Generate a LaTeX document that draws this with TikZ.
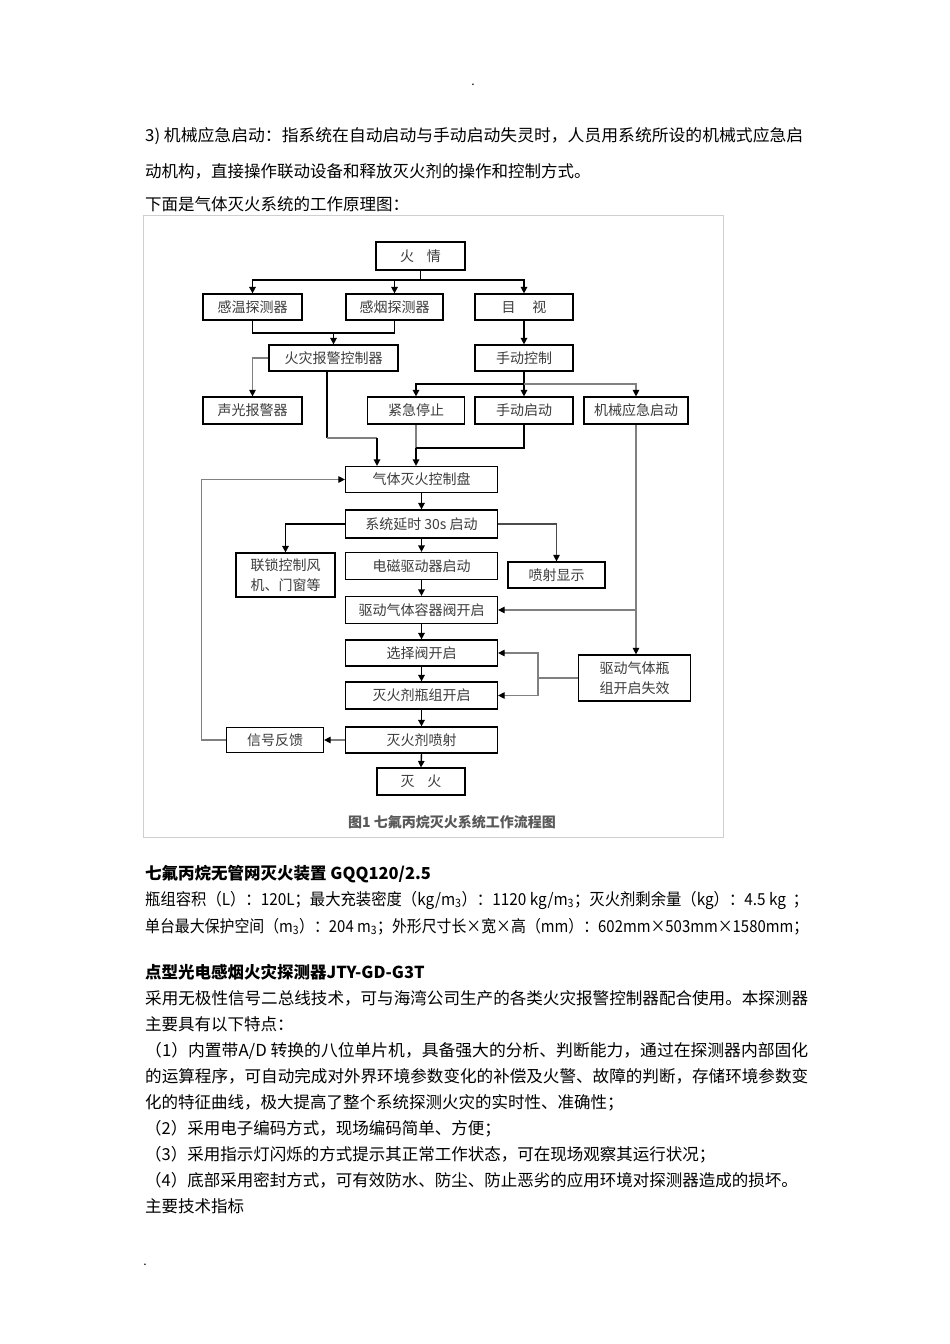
\documentclass[tikz,border=0pt]{standalone}
\usepackage{fontspec}
\setmainfont{Noto Sans CJK SC}
\usepackage{graphicx}
\usetikzlibrary{arrows.meta}
\newcommand{\fitto}[2]{\resizebox{#1}{\height}{#2}}
\definecolor{boxtext}{HTML}{3C3C3C}
\definecolor{lgray}{HTML}{808080}
\definecolor{framec}{HTML}{CFCFCF}
\begin{document}
\begin{tikzpicture}[x=1pt,y=-1pt,
  bx/.style 2 args={draw=black, line width=1.2pt, fill=white, inner sep=0pt, minimum width=#1, minimum height=#2, text=boxtext, font=\fontsize{14}{20}\selectfont, align=center},
  ln/.style={line width=1.4pt, draw=black},
  gl/.style={line width=1.1pt, draw=lgray},
  tip/.style={-{Triangle[length=6.5pt,width=6.5pt,color=black]}},
  body/.style={anchor=base west, inner sep=0pt, font=\fontsize{16.5}{20}\selectfont},
  bodyb/.style={body, font=\bfseries\fontsize{16.5}{20}\selectfont},
]
\fill[white] (0,0) rectangle (950,1344);
\useasboundingbox (0,0) rectangle (950,1344);

% page header / footer dots
\node[anchor=base, inner sep=0pt, font=\fontsize{12}{14}\selectfont] (dtop) at (473,85) {.};
\node[anchor=base, inner sep=0pt, font=\fontsize{12}{14}\selectfont] (dbot) at (145,1265) {.};

% top text
\node[body] (p1) at (145,141) {\fitto{658pt}{3)\ 机械应急启动：指系统在自动启动与手动启动失灵时，人员用系统所设的机械式应急启}};
\node[body] (p2) at (145,177) {动机构，直接操作联动设备和释放灭火剂的操作和控制方式。};
\node[body] (p3) at (145,210) {下面是气体灭火系统的工作原理图：};

% figure frame
\draw[framec, line width=1pt] (143,215) rectangle (723,837);

% boxes
\node[bx={89pt}{28pt}] (fire) at (420.5,256) {火\hspace{0.9em}情};
\node[bx={99pt}{26pt}] (t1) at (252.5,307) {感温探测器};
\node[bx={97pt}{26pt}] (t2) at (394.5,307) {感烟探测器};
\node[bx={98pt}{26pt}] (t3) at (524,307) {目\hspace{1.2em}视};
\node[bx={129pt}{26pt}] (alarm) at (333.5,358) {火灾报警控制器};
\node[bx={98pt}{26pt}] (manual) at (524,358) {手动控制};
\node[bx={99pt}{27pt}] (sg) at (252.5,410.5) {声光报警器};
\node[bx={97pt}{27pt}] (stop) at (416,410.5) {紧急停止};
\node[bx={98pt}{27pt}] (mstart) at (524,410.5) {手动启动};
\node[bx={104pt}{27pt}] (mech) at (636,410.5) {机械应急启动};
\node[bx={152pt}{26pt}] (panel) at (421.5,479.5) {气体灭火控制盘};
\node[bx={152pt}{28pt}] (delay) at (421.5,524) {系统延时 30s 启动};
\node[bx={99pt}{44pt}] (link) at (285.5,575) {联锁控制风\\机、门窗等};
\node[bx={152pt}{27pt}] (em) at (421.5,566) {电磁驱动器启动};
\node[bx={97pt}{26pt}] (spray) at (556.5,575) {喷射显示};
\node[bx={152pt}{27pt}] (valve) at (421.5,610) {驱动气体容器阀开启};
\node[bx={152pt}{26pt}] (sel) at (421.5,653) {选择阀开启};
\node[bx={152pt}{27pt}] (bottle) at (421.5,695.5) {灭火剂瓶组开启};
\node[bx={112pt}{46pt}] (fail) at (634.5,678) {驱动气体瓶\\组开启失效};
\node[bx={97pt}{25pt}] (fb) at (275,740) {信号反馈};
\node[bx={152pt}{26pt}] (jet) at (421.5,740) {灭火剂喷射};
\node[bx={88pt}{27pt}] (out) at (421,781.5) {灭\hspace{0.9em}火};
\node[inner sep=0pt, text=black!65, font=\bfseries\fontsize{14}{16}\selectfont] (cap) at (452,822) {图1\ 七氟丙烷灭火系统工作流程图};

% connectors
\coordinate (bus1) at (420.5,280);
\draw[ln] (fire.south) -- (bus1);
\draw[ln,tip] (bus1) -| (t1.north);
\draw[ln,tip] (bus1) -| (t2.north);
\draw[ln,tip] (bus1) -| (t3.north);

\coordinate (j1) at (333.5,333);
\draw[ln] (t1.south) |- (j1) -| (t2.south);
\draw[ln,tip] (j1) -- (alarm.north);
\draw[ln,tip] (t3.south) -- (manual.north);
\draw[gl,tip] (alarm.west) -| (sg.north);

\coordinate (bus2) at (524,384);
\draw[ln] (manual.south) -- (bus2);
\draw[ln,tip] (bus2) -| (stop.north);
\draw[ln,tip] (bus2) -- (mstart.north);
\draw[gl,tip] (bus2) -| (mech.north);

\coordinate (a1) at (327,438);
\coordinate (a2) at (377,438);
\draw[ln] (alarm.south -| a1) -- (a1);
\draw[gl] (a1) -- (a2);
\draw[ln,tip] (a2) -- (a2 |- panel.north);

\coordinate (j2) at (416,448);
\draw[gl] (stop.south) -- (j2);
\draw[ln] (mstart.south) |- (j2);
\draw[ln,tip] (j2) -- (j2 |- panel.north);

\coordinate (m1) at (636,610);
\draw[gl] (mech.south) -- (m1);
\draw[gl,tip] (m1) -- (valve.east);
\draw[gl,tip] (m1) -- (m1 |- fail.north);

\draw[ln,tip] (panel.south) -- (delay.north);
\draw[ln,tip] (delay.west) -| (link.north);
\draw[gl,tip,draw=black!70] (delay.east) -| (spray.north);
\draw[ln,tip] (delay.south) -- (em.north);
\draw[ln,tip] (em.south) -- (valve.north);
\draw[ln,tip] (valve.south) -- (sel.north);
\draw[ln,tip] (sel.south) -- (bottle.north);
\draw[ln,tip] (bottle.south) -- (jet.north);
\draw[ln,tip] (jet.south) -- (out.north);

\coordinate (f1) at (538,678);
\draw[gl] (fail.west) -- (f1);
\draw[gl,tip] (f1) |- (sel.east);
\draw[gl,tip] (f1) |- (bottle.east);

\draw[gl,tip] (jet.west) -- (fb.east);
\coordinate (fbc) at (201.5,479.5);
\draw[gl,tip] (fb.west) -| (fbc) -- (panel.west);

% lower text
\node[bodyb] (h1) at (145,879) {七氟丙烷无管网灭火装置 GQQ120/2.5};
\node[body] (s1) at (145,905) {\fitto{663pt}{瓶组容积（L）：120L；最大充装密度（kg/m\textsubscript{3}）：1120 kg/m\textsubscript{3}；灭火剂剩余量（kg）：4.5 kg\ \ ；}};
\node[body] (s2) at (145,932) {\fitto{663pt}{单台最大保护空间（m\textsubscript{3}）：204 m\textsubscript{3}；外形尺寸长×宽×高（mm）：602mm×503mm×1580mm；}};

\node[bodyb] (h2) at (145,978) {点型光电感烟火灾探测器JTY-GD-G3T};
\node[body] (q1) at (145,1004) {\fitto{663pt}{采用无极性信号二总线技术，可与海湾公司生产的各类火灾报警控制器配合使用。本探测器}};
\node[body] (q2) at (145,1030) {主要具有以下特点：};
\node[body] (q3) at (145,1056) {\fitto{663pt}{（1）内置带A/D 转换的八位单片机，具备强大的分析、判断能力，通过在探测器内部固化}};
\node[body] (q4) at (145,1082) {\fitto{663pt}{的运算程序，可自动完成对外界环境参数变化的补偿及火警、故障的判断，存储环境参数变}};
\node[body] (q5) at (145,1108) {化的特征曲线，极大提高了整个系统探测火灾的实时性、准确性；};
\node[body] (q6) at (145,1134) {（2）采用电子编码方式，现场编码简单、方便；};
\node[body] (q7) at (145,1160) {（3）采用指示灯闪烁的方式提示其正常工作状态，可在现场观察其运行状况；};
\node[body] (q8) at (145,1186) {（4）底部采用密封方式，可有效防水、防尘、防止恶劣的应用环境对探测器造成的损坏。};
\node[body] (q9) at (145,1212) {主要技术指标};
\end{tikzpicture}
\end{document}
